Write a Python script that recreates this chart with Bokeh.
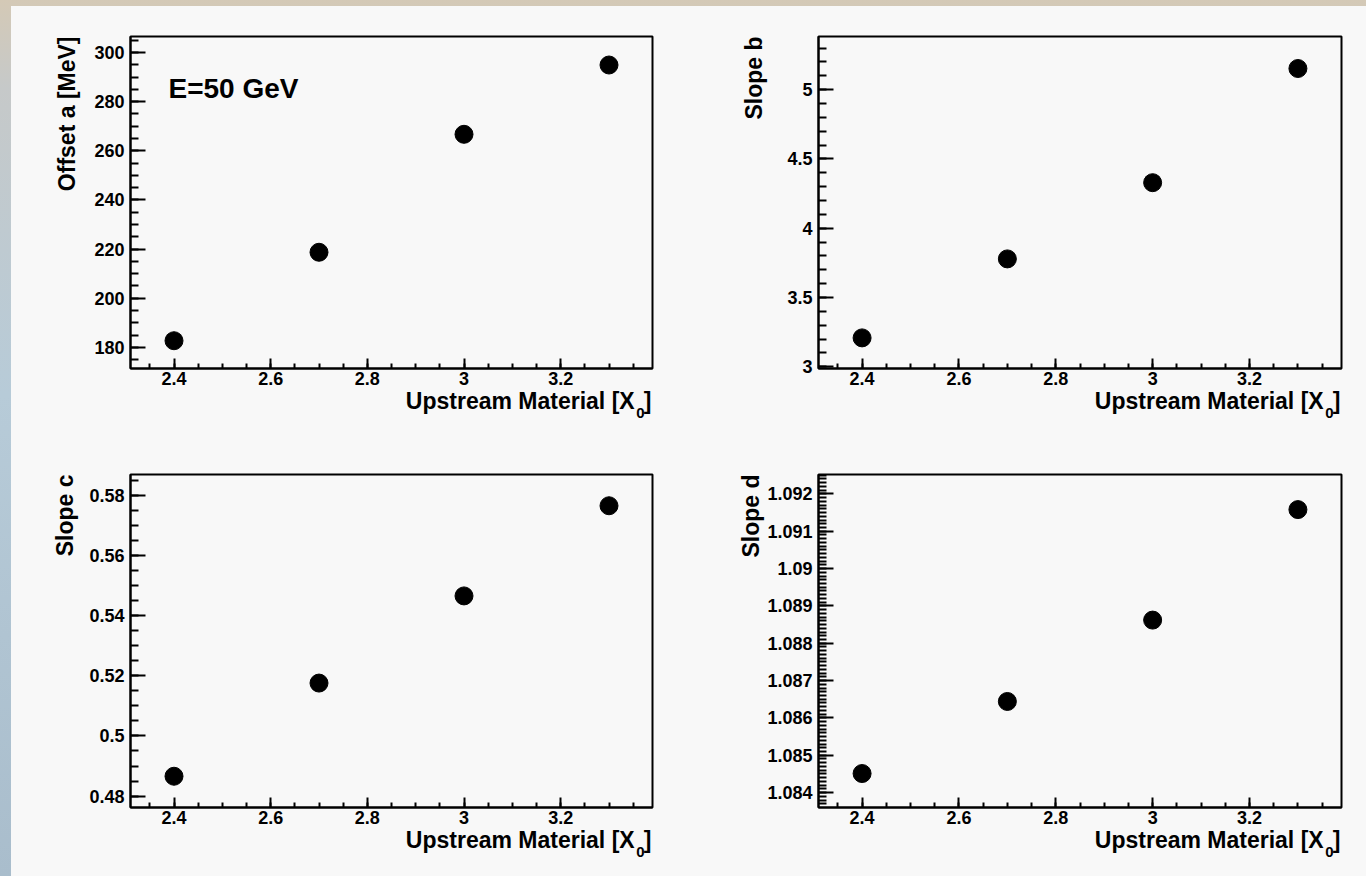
import numpy as np
from bokeh.plotting import figure
from bokeh.models import (Range1d, FixedTicker, CustomJSTickFormatter, Label, Title)
from bokeh.layouts import column, row
from bokeh.embed import file_html
from bokeh.resources import INLINE

# ---- data ----
upstream_x0 = [2.4, 2.7, 3.0, 3.3]
offset_a = [182.7, 218.7, 266.7, 294.9]
slope_b = [3.209, 3.779, 4.329, 5.153]
slope_c = [0.4866, 0.5176, 0.5466, 0.5766]
slope_d = [1.08451, 1.08644, 1.08862, 1.09158]

x_major_ticks = [2.4, 2.6, 2.8, 3.0, 3.2]
a_major_ticks = [180, 200, 220, 240, 260, 280, 300]
b_major_ticks = [3.0, 3.5, 4.0, 4.5, 5.0]
c_major_ticks = [0.48, 0.50, 0.52, 0.54, 0.56, 0.58]
d_major_ticks = [1.084, 1.085, 1.086, 1.087, 1.088, 1.089, 1.090, 1.091, 1.092]

y_titles = ["Offset a [MeV]", "Slope b", "Slope c", "Slope d"]
x_title_main = "Upstream Material [X\u2009\u2009]"
x_title_sub = "0"
energy_label = "E=50 GeV"

FONT = "Liberation Sans"
PANEL = "#f8f8f8"
TITLE_SIZE = "23px"

fmt = CustomJSTickFormatter(code="return String(parseFloat(tick.toFixed(6)));")


def minors(lo, hi, step):
    n = int(round((hi - lo) / step))
    return [round(lo + i * step, 8) for i in range(n + 1)]


def make_panel(yvals, yrange, ymaj, ymin_ticks, ytitle, ystandoff, left, right, top, bottom,
               fw, fh, extra=None):
    p = figure(width=left + fw + right, height=top + fh + bottom,
               frame_width=fw, frame_height=fh,
               x_range=Range1d(2.31, 3.39), y_range=Range1d(*yrange),
               output_backend="svg", toolbar_location=None,
               min_border_left=left, min_border_right=right,
               min_border_top=top, min_border_bottom=bottom)
    p.background_fill_color = PANEL
    p.border_fill_color = PANEL
    p.outline_line_color = "black"
    p.outline_line_width = 2
    p.grid.visible = False

    xa = p.xaxis[0]
    xa.ticker = FixedTicker(ticks=x_major_ticks, minor_ticks=minors(2.35, 3.35, 0.05))
    xa.formatter = fmt
    xa.major_tick_in = 10
    xa.major_tick_out = 0
    xa.minor_tick_in = 5
    xa.minor_tick_out = 0
    xa.major_label_standoff = 3

    ya = p.yaxis[0]
    ya.ticker = FixedTicker(ticks=ymaj, minor_ticks=ymin_ticks)
    ya.formatter = fmt
    ya.major_tick_in = 15
    ya.major_tick_out = 0
    ya.minor_tick_in = 8
    ya.minor_tick_out = 0
    ya.major_label_standoff = 6

    for ax in (xa, ya):
        ax.axis_line_width = 2
        ax.axis_line_color = "black"
        ax.major_tick_line_width = 2
        ax.minor_tick_line_width = 2
        ax.major_tick_line_color = "black"
        ax.minor_tick_line_color = "black"
        ax.major_label_text_font = FONT
        ax.major_label_text_font_style = "bold"
        ax.major_label_text_font_size = "18px"
        ax.major_label_text_color = "black"

    p.add_layout(Title(text=x_title_main, align="right", standoff=-4, offset=1,
                       text_font=FONT, text_font_style="bold",
                       text_font_size=TITLE_SIZE, text_color="black"), "below")
    p.add_layout(Title(text=x_title_sub, align="right", standoff=-11, offset=8,
                       text_font=FONT, text_font_style="bold",
                       text_font_size="15px", text_color="black"), "below")
    p.add_layout(Title(text=ytitle, align="right", standoff=ystandoff,
                       text_font=FONT, text_font_style="bold",
                       text_font_size=TITLE_SIZE, text_color="black"), "left")

    p.scatter(upstream_x0, yvals, size=18, fill_color="black", line_color="black")

    if extra:
        y1 = yrange[1]
        p.add_layout(Label(x=2.31, y=y1, x_offset=38, y_offset=-52, text=extra,
                           text_align="left", text_baseline="alphabetic",
                           text_color="black",
                           text_font=FONT, text_font_style="bold", text_font_size="28px"))
    return p


p1 = make_panel(offset_a, (171.4, 306.5), a_major_ticks, minors(175, 305, 5),
                y_titles[0], 24, 119, 31, 30, 70, 522, 332, extra=energy_label)
p2 = make_panel(slope_b, (2.988, 5.384), b_major_ticks, minors(3.0, 5.3, 0.1),
                y_titles[1], 36, 135, 25, 30, 70, 523, 332)
p3 = make_panel(slope_c, (0.4762, 0.587), c_major_ticks, minors(0.48, 0.585, 0.005),
                y_titles[2], 18, 119, 31, 36, 69, 522, 333)
p4 = make_panel(slope_d, (1.0836, 1.09252), d_major_ticks, minors(1.0837, 1.0925, 0.0001),
                y_titles[3], 2, 135, 25, 36, 69, 523, 333)

inner = column(row(p1, p2), row(p3, p4), margin=(6, 0, 0, 11),
               styles={"background": PANEL})
layout = column(inner, styles={
    "background": "linear-gradient(180deg, #d4c9b6 0%, #c6c9c9 10%, #b7cbd8 45%, #a9bdcc 100%)"})

open("out.html", "w").write(file_html(layout, INLINE))
